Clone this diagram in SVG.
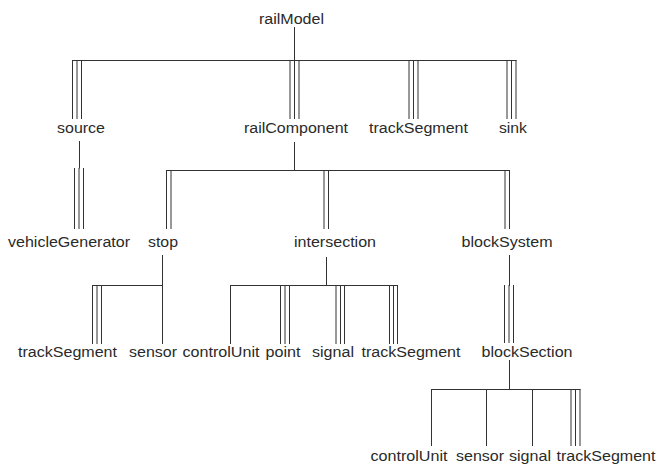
<svg xmlns="http://www.w3.org/2000/svg" width="657" height="465" viewBox="0 0 657 465">
<style>
.bg{fill:#ffffff}
.c line{stroke:#333333;stroke-width:1;fill:none}
text{font-family:"Liberation Sans",Arial,sans-serif;font-size:14px;fill:#2a2a2a;text-anchor:middle}
</style>
<rect class="bg" x="0" y="0" width="657" height="465"/>
<g id="connectors" class="c">
<line x1="294.5" y1="27" x2="294.5" y2="60.5"/>
<line x1="72.5" y1="60.5" x2="516.5" y2="60.5"/>
<line x1="72.5" y1="60" x2="72.5" y2="119"/><line x1="77" y1="60" x2="77" y2="119"/><line x1="81.5" y1="60" x2="81.5" y2="119"/>
<line x1="290" y1="60" x2="290" y2="119"/><line x1="294.5" y1="60" x2="294.5" y2="119"/><line x1="299" y1="60" x2="299" y2="119"/>
<line x1="409" y1="60" x2="409" y2="119"/><line x1="413.5" y1="60" x2="413.5" y2="119"/><line x1="418" y1="60" x2="418" y2="119"/>
<line x1="507" y1="60" x2="507" y2="119"/><line x1="511.5" y1="60" x2="511.5" y2="119"/><line x1="516" y1="60" x2="516" y2="119"/>
<line x1="79.5" y1="141" x2="79.5" y2="168.5"/>
<line x1="74.5" y1="168" x2="74.5" y2="229"/><line x1="79" y1="168" x2="79" y2="229"/><line x1="83.5" y1="168" x2="83.5" y2="229"/>
<line x1="294.5" y1="142" x2="294.5" y2="170.5"/>
<line x1="166.5" y1="170.5" x2="509.5" y2="170.5"/>
<line x1="166.5" y1="170" x2="166.5" y2="229"/><line x1="171" y1="170" x2="171" y2="229"/>
<line x1="324" y1="170" x2="324" y2="229"/><line x1="328.5" y1="170" x2="328.5" y2="229"/>
<line x1="505" y1="170" x2="505" y2="229"/><line x1="509.5" y1="170" x2="509.5" y2="229"/>
<line x1="509.5" y1="255" x2="509.5" y2="286"/>
<line x1="504.5" y1="285" x2="504.5" y2="343"/><line x1="509" y1="285" x2="509" y2="343"/><line x1="513.5" y1="285" x2="513.5" y2="343"/>
<line x1="162.5" y1="255" x2="162.5" y2="285.5"/>
<line x1="92.5" y1="285.5" x2="162.5" y2="285.5"/>
<line x1="92.5" y1="285" x2="92.5" y2="344"/><line x1="97" y1="285" x2="97" y2="344"/><line x1="101.5" y1="285" x2="101.5" y2="344"/>
<line x1="162.5" y1="285" x2="162.5" y2="344"/>
<line x1="326.5" y1="257" x2="326.5" y2="285.5"/>
<line x1="230.5" y1="285.5" x2="398" y2="285.5"/>
<line x1="230.5" y1="285" x2="230.5" y2="344"/>
<line x1="280.5" y1="285" x2="280.5" y2="344"/><line x1="285" y1="285" x2="285" y2="344"/><line x1="289.5" y1="285" x2="289.5" y2="344"/>
<line x1="336" y1="285" x2="336" y2="344"/><line x1="340.5" y1="285" x2="340.5" y2="344"/><line x1="344.5" y1="285" x2="344.5" y2="344"/>
<line x1="389.5" y1="285" x2="389.5" y2="344"/><line x1="393.5" y1="285" x2="393.5" y2="344"/><line x1="397.5" y1="285" x2="397.5" y2="344"/>
<line x1="509.5" y1="360" x2="509.5" y2="389.5"/>
<line x1="431.5" y1="389.5" x2="580.5" y2="389.5"/>
<line x1="431.5" y1="389" x2="431.5" y2="446"/>
<line x1="486.5" y1="389" x2="486.5" y2="446"/>
<line x1="532.5" y1="389" x2="532.5" y2="446"/>
<line x1="571" y1="389" x2="571" y2="446"/><line x1="575.5" y1="389" x2="575.5" y2="446"/><line x1="580" y1="389" x2="580" y2="446"/>
</g>
<g id="n-railModel"><text x="291.5" y="23.5" textLength="65" lengthAdjust="spacingAndGlyphs">railModel</text></g>
<g id="n-source"><text x="81" y="133" textLength="48" lengthAdjust="spacingAndGlyphs">source</text></g>
<g id="n-railComponent"><text x="296" y="133" textLength="104" lengthAdjust="spacingAndGlyphs">railComponent</text></g>
<g id="n-trackSegment1"><text x="418.5" y="133" textLength="99" lengthAdjust="spacingAndGlyphs">trackSegment</text></g>
<g id="n-sink"><text x="513" y="133" textLength="28" lengthAdjust="spacingAndGlyphs">sink</text></g>
<g id="n-vehicleGenerator"><text x="69" y="247" textLength="122" lengthAdjust="spacingAndGlyphs">vehicleGenerator</text></g>
<g id="n-stop"><text x="163" y="247" textLength="30" lengthAdjust="spacingAndGlyphs">stop</text></g>
<g id="n-intersection"><text x="335" y="247" textLength="82" lengthAdjust="spacingAndGlyphs">intersection</text></g>
<g id="n-blockSystem"><text x="507" y="247" textLength="91" lengthAdjust="spacingAndGlyphs">blockSystem</text></g>
<g id="n-trackSegment2"><text x="67.5" y="357" textLength="99" lengthAdjust="spacingAndGlyphs">trackSegment</text></g>
<g id="n-sensor1"><text x="153" y="357" textLength="48" lengthAdjust="spacingAndGlyphs">sensor</text></g>
<g id="n-controlUnit1"><text x="221" y="357" textLength="77" lengthAdjust="spacingAndGlyphs">controlUnit</text></g>
<g id="n-point"><text x="283" y="357" textLength="35" lengthAdjust="spacingAndGlyphs">point</text></g>
<g id="n-signal1"><text x="333" y="357" textLength="42" lengthAdjust="spacingAndGlyphs">signal</text></g>
<g id="n-trackSegment3"><text x="411" y="357" textLength="99" lengthAdjust="spacingAndGlyphs">trackSegment</text></g>
<g id="n-blockSection"><text x="527" y="357" textLength="91" lengthAdjust="spacingAndGlyphs">blockSection</text></g>
<g id="n-controlUnit2"><text x="409" y="461" textLength="77" lengthAdjust="spacingAndGlyphs">controlUnit</text></g>
<g id="n-sensor2"><text x="480" y="461" textLength="48" lengthAdjust="spacingAndGlyphs">sensor</text></g>
<g id="n-signal2"><text x="530" y="461" textLength="42" lengthAdjust="spacingAndGlyphs">signal</text></g>
<g id="n-trackSegment4"><text x="606" y="461" textLength="99" lengthAdjust="spacingAndGlyphs">trackSegment</text></g>
</svg>
